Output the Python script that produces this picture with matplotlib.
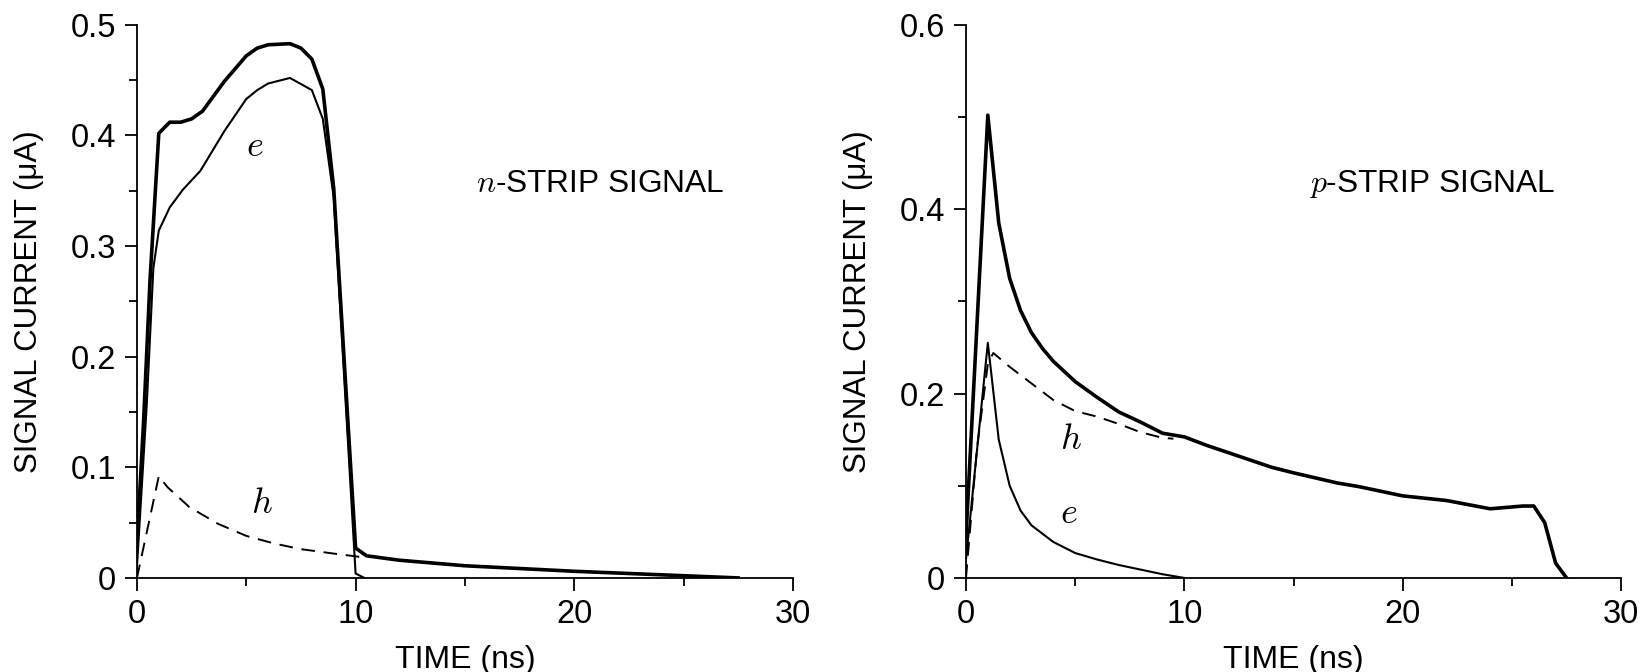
import matplotlib
matplotlib.use("Agg")
import matplotlib.pyplot as plt
from matplotlib.ticker import MultipleLocator

plt.rcParams["font.family"] = ["Liberation Sans", "DejaVu Sans"]
plt.rcParams["mathtext.fontset"] = "cm"

# n-strip signal
n_total_t = [0, 0.3, 0.6, 1.0, 1.5, 2.0, 2.5, 3.0, 4.0, 5.0, 5.5, 6.0, 7.0, 7.5, 8.0, 8.5, 9.0, 10.0,
             10.5, 12, 15, 20, 25, 27.5]
n_total_v = [0.03, 0.14, 0.27, 0.402, 0.412, 0.412, 0.415, 0.422, 0.449, 0.472, 0.479, 0.482, 0.483,
             0.479, 0.469, 0.442, 0.352, 0.027, 0.02, 0.016, 0.011, 0.006, 0.002, 0.0]
n_e_t = [0, 0.45, 0.75, 1.0, 1.5, 2.1, 2.9, 4.0, 5.0, 5.5, 6.0, 7.0, 8.0, 8.5, 9.0, 10.0, 10.4]
n_e_v = [0.01, 0.157, 0.28, 0.314, 0.335, 0.351, 0.368, 0.404, 0.433, 0.441, 0.447, 0.452, 0.441,
         0.415, 0.344, 0.004, 0.0]
n_h_t = [0, 1.0, 1.4, 2.4, 3.7, 5.0, 6.3, 7.5, 9.0, 10.2]
n_h_v = [0.0, 0.092, 0.082, 0.064, 0.049, 0.038, 0.031, 0.026, 0.022, 0.019]

# p-strip signal
p_total_t = [0, 1.0, 1.5, 2.0, 2.5, 3.0, 3.5, 4.0, 5.0, 6.0, 7.0, 8.0, 9.0, 10.0, 11.0, 12.0, 14.0,
             15.0, 17.0, 18.0, 20.0, 22.0, 24.0, 25.5, 26.0, 26.5, 27.0, 27.5]
p_total_v = [0.045, 0.502, 0.385, 0.325, 0.29, 0.266, 0.249, 0.235, 0.213, 0.196, 0.18, 0.169, 0.157,
             0.153, 0.144, 0.136, 0.12, 0.114, 0.103, 0.099, 0.089, 0.084, 0.075, 0.078, 0.078,
             0.06, 0.016, 0.0]
p_e_t = [0, 1.0, 1.5, 2.0, 2.5, 3.0, 4.0, 5.0, 6.0, 7.0, 8.0, 9.0, 10.0]
p_e_v = [0.02, 0.255, 0.15, 0.1, 0.073, 0.057, 0.039, 0.027, 0.02, 0.014, 0.009, 0.004, 0.0]
p_h_t = [0, 0.5, 1.0, 1.25, 2.0, 3.0, 4.0, 5.0, 6.0, 7.0, 8.0, 9.0, 9.5]
p_h_v = [0.0, 0.14, 0.232, 0.244, 0.229, 0.211, 0.193, 0.181, 0.175, 0.167, 0.158, 0.152, 0.151]

fig = plt.figure(figsize=(16.42, 6.72), dpi=100)
ax1 = fig.add_axes([0.0834, 0.140, 0.3995, 0.823])
ax2 = fig.add_axes([0.5883, 0.140, 0.399, 0.823])

ax1.plot(n_total_t, n_total_v, color="black", lw=2.6)
ax1.plot(n_e_t, n_e_v, color="black", lw=1.5)
ax1.plot(n_h_t, n_h_v, color="black", lw=1.4, linestyle=(0, (7, 4.5)))

ax2.plot(p_total_t, p_total_v, color="black", lw=2.6)
ax2.plot(p_e_t, p_e_v, color="black", lw=1.5)
ax2.plot(p_h_t, p_h_v, color="black", lw=1.4, linestyle=(0, (7, 4.5)))

for ax, ymax, ystep in [(ax1, 0.5, 0.1), (ax2, 0.6, 0.2)]:
    ax.set_xlim(0, 30)
    ax.set_ylim(0, ymax)
    ax.xaxis.set_major_locator(MultipleLocator(10))
    ax.xaxis.set_minor_locator(MultipleLocator(5))
    ax.yaxis.set_major_locator(MultipleLocator(ystep))
    ax.yaxis.set_minor_locator(MultipleLocator(ystep / 2))
    ax.spines["top"].set_visible(False)
    ax.spines["right"].set_visible(False)
    ax.spines["left"].set_linewidth(1.3)
    ax.spines["bottom"].set_linewidth(1.3)
    ax.tick_params(which="major", direction="out", length=9, width=1.3, labelsize=23.5, pad=6)
    ax.tick_params(which="minor", direction="out", length=6, width=1.3)
    ax.set_xlabel("TIME (ns)", fontsize=23, labelpad=11)
    ax.set_ylabel("SIGNAL CURRENT (\u03bcA)", fontsize=22.5, labelpad=19)
    for spine in ax.spines.values():
        spine.set_clip_on(False)

ax1.yaxis.set_major_formatter(plt.FuncFormatter(lambda v, p: "0" if v == 0 else f"{v:.1f}"))
ax2.yaxis.set_major_formatter(plt.FuncFormatter(lambda v, p: "0" if v == 0 else f"{v:.1f}"))

ax1.text(15.5, 0.356, "$n$-STRIP SIGNAL", fontsize=22.8, va="center")
ax1.text(5.0, 0.39, "$e$", fontsize=26, va="center")
ax1.text(5.2, 0.067, "$h$", fontsize=26, va="center")

ax2.text(15.7, 0.427, "$p$-STRIP SIGNAL", fontsize=22.8, va="center")
ax2.text(4.3, 0.15, "$h$", fontsize=26, va="center")
ax2.text(4.3, 0.070, "$e$", fontsize=26, va="center")

fig.savefig("out.png", dpi=100)
